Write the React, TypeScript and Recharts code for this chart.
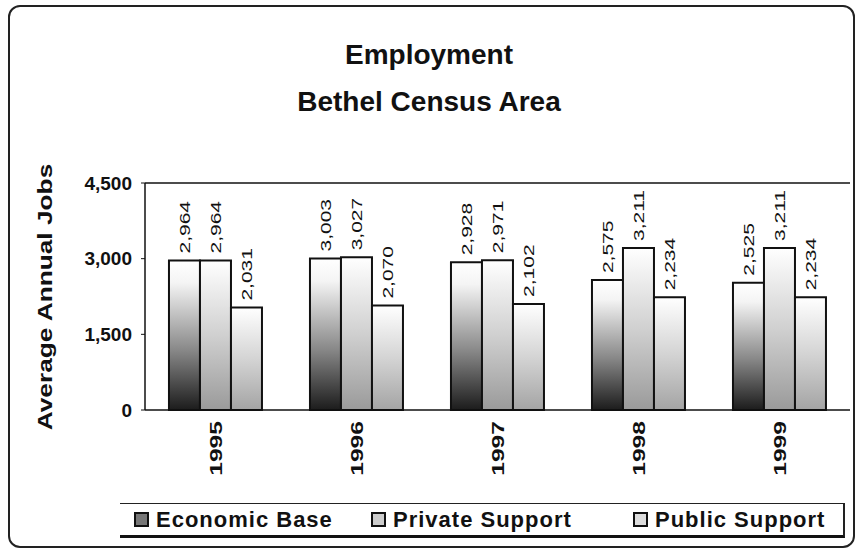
import React from 'react';
import {
  BarChart,
  Bar,
  XAxis,
  YAxis,
  LabelList,
  ReferenceLine,
} from 'recharts';

const years = ['1995', '1996', '1997', '1998', '1999'];
const economicBase = [2964, 3003, 2928, 2575, 2525];
const privateSupport = [2964, 3027, 2971, 3211, 3211];
const publicSupport = [2031, 2070, 2102, 2234, 2234];
const yTicks = [0, 1500, 3000, 4500];

const chartData = years.map((year, i) => ({
  year,
  economic: economicBase[i],
  private: privateSupport[i],
  public: publicSupport[i],
}));

const font = '"Liberation Sans", Arial, sans-serif';
const fmt = (v: number) => v.toLocaleString('en-US');

// rotated value label above each bar, stretched along its length like the original
const RotatedLabel = (props: any) => {
  const { x, y, width, value } = props;
  const cx = x + width / 2;
  const cy = y - 7;
  return (
    <text
      x={0}
      y={0}
      transform={`translate(${cx}, ${cy}) rotate(-90) scale(1.4, 1)`}
      textAnchor="start"
      dominantBaseline="central"
      fontFamily={font}
      fontSize={15}
      fill="#111"
    >
      {fmt(value)}
    </text>
  );
};

const YearTick = (props: any) => {
  const { x, y, payload } = props;
  const ty = y + 3;
  return (
    <text
      x={0}
      y={0}
      transform={`translate(${x}, ${ty}) rotate(-90) scale(1.45, 1)`}
      textAnchor="end"
      dominantBaseline="central"
      fontFamily={font}
      fontSize={17}
      fontWeight="bold"
      fill="#111"
    >
      {payload.value}
    </text>
  );
};

const LegendItem = ({ label, shade, left }: { label: string; shade: string; left: number }) => (
  <span
    style={{
      position: 'absolute',
      left,
      top: 0,
      height: '100%',
      display: 'inline-flex',
      alignItems: 'center',
      whiteSpace: 'nowrap',
    }}
  >
    <span
      style={{
        width: 11,
        height: 11,
        border: '2px solid #111',
        background: shade,
        marginRight: 7,
        display: 'inline-block',
      }}
    />
    {label}
  </span>
);

export default function App() {
  return (
    <div
      style={{
        position: 'absolute',
        left: 0,
        top: 0,
        width: 858,
        height: 550,
        background: '#fff',
        fontFamily: font,
        overflow: 'hidden',
      }}
    >
      <div
        style={{
          position: 'absolute',
          left: 8,
          top: 5,
          width: 843,
          height: 539,
          border: '2px solid #222',
          borderRadius: 12,
        }}
      />
      <div
        style={{
          position: 'absolute',
          left: 0,
          top: 31,
          width: 858,
          textAlign: 'center',
          fontSize: 28,
          fontWeight: 'bold',
          lineHeight: '47px',
          color: '#111',
        }}
      >
        Employment
        <br />
        Bethel Census Area
      </div>
      <div
        style={{
          position: 'absolute',
          left: 45,
          top: 297,
          transform: 'translate(-50%, -50%) rotate(-90deg) scaleX(1.25)',
          whiteSpace: 'nowrap',
          fontSize: 21,
          fontWeight: 'bold',
          color: '#111',
        }}
      >
        Average Annual Jobs
      </div>
      <div style={{ position: 'absolute', left: 0, top: 0 }}>
        <BarChart
          width={858}
          height={550}
          data={chartData}
          margin={{ top: 183, right: 8, bottom: 70, left: 75 }}
          barCategoryGap="17%"
          barGap={0}
        >
          <defs>
            <linearGradient id="gEcon" x1="0" y1="1" x2="0" y2="0">
              <stop offset="0%" stopColor="#1c1c1c" />
              <stop offset="40%" stopColor="#888888" />
              <stop offset="85%" stopColor="#f4f4f4" />
              <stop offset="100%" stopColor="#ffffff" />
            </linearGradient>
            <linearGradient id="gPriv" x1="0" y1="1" x2="0" y2="0">
              <stop offset="0%" stopColor="#9a9a9a" />
              <stop offset="50%" stopColor="#d0d0d0" />
              <stop offset="100%" stopColor="#ffffff" />
            </linearGradient>
            <linearGradient id="gPub" x1="0" y1="1" x2="0" y2="0">
              <stop offset="0%" stopColor="#a4a4a4" />
              <stop offset="50%" stopColor="#d4d4d4" />
              <stop offset="100%" stopColor="#ffffff" />
            </linearGradient>
          </defs>
          <XAxis
            dataKey="year"
            height={70}
            tick={<YearTick />}
            tickLine={false}
            axisLine={{ stroke: '#111', strokeWidth: 1.5 }}
            interval={0}
          />
          <YAxis
            domain={[0, 4500]}
            ticks={yTicks}
            width={70}
            tickFormatter={fmt}
            tick={{ fontFamily: font, fontSize: 19, fontWeight: 'bold', fill: '#111' }}
            tickLine={{ stroke: '#111' }}
            tickSize={4}
            tickMargin={9}
            axisLine={{ stroke: '#111', strokeWidth: 1.5 }}
          />
          <ReferenceLine y={4500} stroke="#111" strokeWidth={1.5} />
          <Bar dataKey="economic" fill="url(#gEcon)" stroke="#111" strokeWidth={2} isAnimationActive={false}>
            <LabelList dataKey="economic" content={<RotatedLabel />} />
          </Bar>
          <Bar dataKey="private" fill="url(#gPriv)" stroke="#111" strokeWidth={2} isAnimationActive={false}>
            <LabelList dataKey="private" content={<RotatedLabel />} />
          </Bar>
          <Bar dataKey="public" fill="url(#gPub)" stroke="#111" strokeWidth={2} isAnimationActive={false}>
            <LabelList dataKey="public" content={<RotatedLabel />} />
          </Bar>
        </BarChart>
      </div>
      <div
        style={{
          position: 'absolute',
          left: 120,
          top: 503,
          width: 725,
          height: 35,
          borderTop: '1.5px solid #222',
          borderRight: '2px solid #222',
          borderBottom: '3px solid #111',
          boxSizing: 'border-box',
          fontSize: 22,
          letterSpacing: 1,
          fontWeight: 'bold',
          color: '#111',
        }}
      >
        <LegendItem label="Economic Base" shade="#777" left={14} />
        <LegendItem label="Private Support" shade="#ccc" left={251} />
        <LegendItem label="Public Support" shade="#ddd" left={513} />
      </div>
    </div>
  );
}
